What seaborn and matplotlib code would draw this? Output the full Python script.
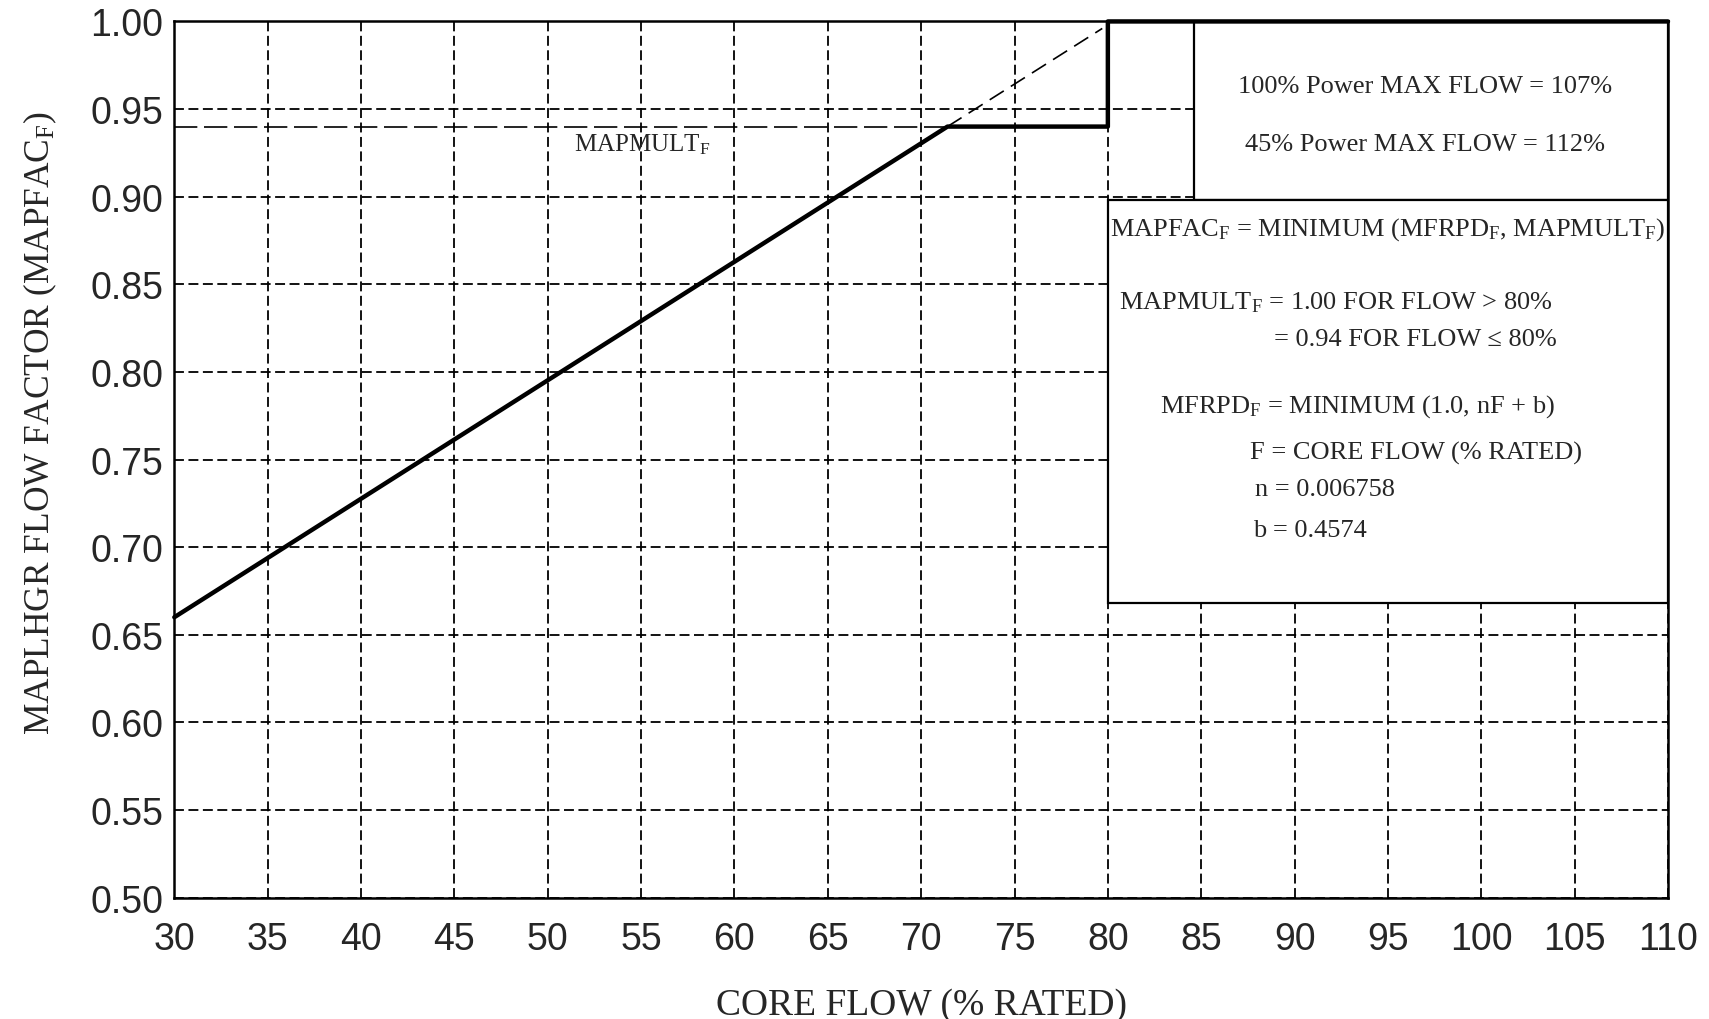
import numpy as np
import pandas as pd
import matplotlib
matplotlib.use("Agg")
import matplotlib.pyplot as plt
import seaborn as sns
from matplotlib.patches import Rectangle

# ---- data ----
flow_limit = [30, 71.41, 80, 80, 110]          # solid MAPFAC_F limit
factor_limit = [0.660, 0.940, 0.940, 1.000, 1.000]
flow_ext = [71.41, 79.7]                        # dashed continuation of nF + b
factor_ext = [0.940, 0.996]
flow_mult = [30, 71.41]                         # dashed 0.94 MAPMULT_F level
factor_mult = [0.940, 0.940]

x_ticks = list(range(30, 111, 5))
y_ticks = [0.50, 0.55, 0.60, 0.65, 0.70, 0.75, 0.80, 0.85, 0.90, 0.95, 1.00]

sns.set_style("white")
plt.rcParams["mathtext.fontset"] = "custom"
plt.rcParams["mathtext.rm"] = "Liberation Serif"
plt.rcParams["mathtext.it"] = "Liberation Serif"
plt.rcParams["mathtext.bf"] = "Liberation Serif:bold"

fig = plt.figure(figsize=(17.09, 10.20), dpi=100)
ax = fig.add_axes([0.102, 0.119, 0.874, 0.859])

df = pd.DataFrame({"flow": flow_limit, "factor": factor_limit})
sns.lineplot(data=df, x="flow", y="factor", sort=False, estimator=None,
             color="black", linewidth=3.2, ax=ax, zorder=6, clip_on=False)
sns.lineplot(x=flow_ext, y=factor_ext, sort=False, estimator=None, color="black",
             linewidth=1.2, linestyle=(0, (10, 5)), ax=ax, zorder=4)
sns.lineplot(x=flow_mult, y=factor_mult, sort=False, estimator=None, color="black",
             linewidth=1.2, linestyle=(0, (14, 4)), ax=ax, zorder=4)

ax.set_xlim(30, 110)
ax.set_ylim(0.50, 1.00)
ax.set_xticks(x_ticks)
ax.set_yticks(y_ticks)
ax.set_yticklabels([f"{v:.2f}" for v in y_ticks])
ax.grid(True, color="black", linestyle=(0, (5.5, 2.5)), linewidth=1.3)
ax.set_axisbelow(True)
for s in ax.spines.values():
    s.set_color("black")
    s.set_linewidth(1.8)

ax.tick_params(axis="x", length=0, pad=17)
ax.tick_params(axis="y", length=0, pad=8)
for lab in ax.get_xticklabels() + ax.get_yticklabels():
    lab.set_fontfamily(["Liberation Sans Narrow", "Liberation Sans", "DejaVu Sans"])
    lab.set_fontsize(27)

ax.set_xlabel("CORE FLOW (% RATED)", fontfamily="Liberation Serif", fontsize=27, labelpad=22)
ax.set_ylabel(r"MAPLHGR FLOW FACTOR (MAPFAC$_\mathrm{F}$)", fontfamily="Liberation Serif",
              fontsize=25.5)
ax.yaxis.set_label_coords(-0.077, 0.543)

# annotation boxes
ax.add_patch(Rectangle((84.6, 0.898), 25.4, 0.102, facecolor="white", edgecolor="black",
                       linewidth=1.6, zorder=3))
ax.add_patch(Rectangle((80, 0.668), 30, 0.230, facecolor="white", edgecolor="black",
                       linewidth=1.6, zorder=3))

serif = "Liberation Serif"
ax.text(51.4, 0.930, r"MAPMULT$_\mathrm{F}$", fontfamily=serif, fontsize=18, va="center", zorder=7)
ax.text(97.0, 0.963, "100% Power MAX FLOW = 107%", fontfamily=serif, fontsize=19,
        ha="center", va="center", zorder=7)
ax.text(97.0, 0.930, "45% Power MAX FLOW = 112%", fontfamily=serif, fontsize=19,
        ha="center", va="center", zorder=7)
box_lines = [
    (80.12, 0.882, r"MAPFAC$_\mathrm{F}$ = MINIMUM (MFRPD$_\mathrm{F}$, MAPMULT$_\mathrm{F}$)"),
    (80.6, 0.840, r"MAPMULT$_\mathrm{F}$ = 1.00 FOR FLOW > 80%"),
    (88.9, 0.819, "= 0.94 FOR FLOW ≤ 80%"),
    (82.8, 0.781, r"MFRPD$_\mathrm{F}$ = MINIMUM (1.0, nF + b)"),
    (87.6, 0.754, "F = CORE FLOW (% RATED)"),
    (87.9, 0.733, "n = 0.006758"),
    (87.8, 0.710, "b = 0.4574"),
]
for x, y, txt in box_lines:
    ax.text(x, y, txt, fontfamily=serif, fontsize=19, va="center", zorder=7)

fig.savefig("out.png", dpi=100)
